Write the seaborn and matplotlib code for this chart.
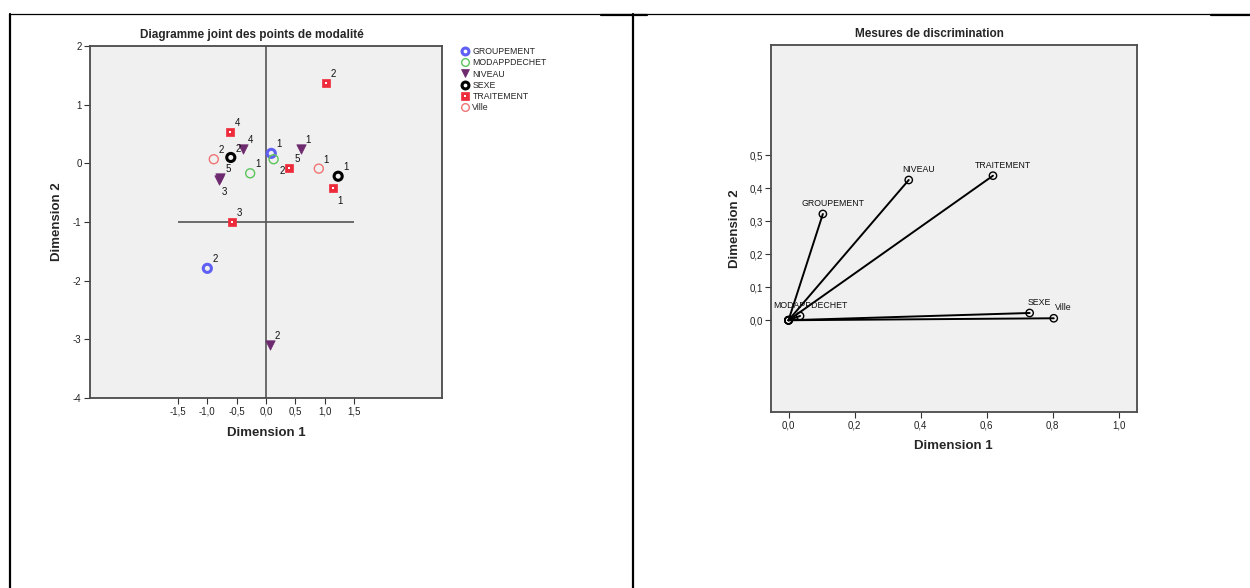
import numpy as np
import pandas as pd
import matplotlib
matplotlib.use('Agg')
import matplotlib.pyplot as plt
import seaborn as sns
from matplotlib.lines import Line2D
from matplotlib.ticker import FuncFormatter

# --- points de modalité (dimension 1, dimension 2) ---
groupement_cat = ['1', '2']
groupement_d1 = [0.09, -1.00]
groupement_d2 = [0.17, -1.79]

modappdechet_cat = ['1', '2']
modappdechet_d1 = [-0.27, 0.13]
modappdechet_d2 = [-0.17, 0.07]

niveau_cat = ['1', '2', '3', '4', '5']
niveau_d1 = [0.59, 0.06, -0.80, -0.39, -0.78]
niveau_d2 = [0.24, -3.09, -0.28, 0.24, -0.25]

sexe_cat = ['1', '2']
sexe_d1 = [1.23, -0.60]
sexe_d2 = [-0.22, 0.10]

traitement_cat = ['1', '2', '3', '4', '5']
traitement_d1 = [1.15, 1.02, -0.58, -0.61, 0.40]
traitement_d2 = [-0.42, 1.37, -1.00, 0.53, -0.08]

ville_cat = ['1', '2']
ville_d1 = [0.90, -0.89]
ville_d2 = [-0.09, 0.07]

# --- mesures de discrimination ---
disc_vars = ['GROUPEMENT', 'MODAPPDECHET', 'NIVEAU', 'SEXE', 'TRAITEMENT', 'Ville']
disc_d1 = [0.104, 0.035, 0.364, 0.730, 0.619, 0.803]
disc_d2 = [0.322, 0.013, 0.425, 0.022, 0.438, 0.006]

left_xticks = [-1.5, -1.0, -0.5, 0.0, 0.5, 1.0, 1.5]
left_yticks = [-4, -3, -2, -1, 0, 1, 2]
right_xticks = [0.0, 0.2, 0.4, 0.6, 0.8, 1.0]
right_yticks = [0.0, 0.1, 0.2, 0.3, 0.4, 0.5]

rows = []
for var, cats, d1, d2 in [('GROUPEMENT', groupement_cat, groupement_d1, groupement_d2),
                          ('MODAPPDECHET', modappdechet_cat, modappdechet_d1, modappdechet_d2),
                          ('NIVEAU', niveau_cat, niveau_d1, niveau_d2),
                          ('SEXE', sexe_cat, sexe_d1, sexe_d2),
                          ('TRAITEMENT', traitement_cat, traitement_d1, traitement_d2),
                          ('Ville', ville_cat, ville_d1, ville_d2)]:
    for c, x, y in zip(cats, d1, d2):
        rows.append({'var': var, 'cat': c, 'd1': x, 'd2': y})
df = pd.DataFrame(rows)

styles = {
    'GROUPEMENT':   dict(marker='o', s=34, fc='none', ec='#5f5ff5', lw=2.2),
    'MODAPPDECHET': dict(marker='o', s=42, fc='none', ec='#5cc45c', lw=1.0),
    'NIVEAU':       dict(marker='v', s=46, fc='#6e2a6e', ec='#6e2a6e', lw=0.5),
    'SEXE':         dict(marker='o', s=34, fc='none', ec='black', lw=2.2),
    'TRAITEMENT':   dict(marker='s', s=40, fc='#ee2b3b', ec='#ee2b3b', lw=0.5),
    'Ville':        dict(marker='o', s=42, fc='none', ec='#f07474', lw=1.0),
}

# décalage des étiquettes (pixels), par défaut en haut à droite
label_offset = {('MODAPPDECHET', '2'): (6, -12), ('TRAITEMENT', '1'): (4, -13),
                ('NIVEAU', '3'): (3, -12), ('SEXE', '2'): (5, 3)}

sns.set_style('white')
plt.rcParams['font.family'] = ['Liberation Sans', 'DejaVu Sans']
plt.rcParams['axes.unicode_minus'] = False

fig = plt.figure(figsize=(12.5, 5.88), dpi=100)
W, H = 1250, 588

def px_axes(l, t, r, b):
    return fig.add_axes([l / W, 1 - b / H, (r - l) / W, (b - t) / H])

def style_axes(ax):
    ax.set_facecolor('#f0f0f0')
    for sp in ax.spines.values():
        sp.set_color('#4a4a4a')
        sp.set_linewidth(1.3)
    ax.tick_params(axis='both', which='major', direction='out', length=4, width=0.8,
                   color='#333333', labelsize=7, labelcolor='#222222', pad=2,
                   bottom=True, left=True)

comma = FuncFormatter(lambda v, p: f'{v:.1f}'.replace('.', ','))

# ---------- graphique de gauche ----------
ax1 = px_axes(90, 46, 442, 398)
style_axes(ax1)
ax1.axvline(0, color='#555555', lw=1.2, zorder=1)
ax1.hlines(-1, -1.5, 1.5, color='#555555', lw=1.2, zorder=1)

handles = []
for var, st in styles.items():
    sub = df[df['var'] == var]
    sns.scatterplot(data=sub, x='d1', y='d2', marker=st['marker'], s=st['s'],
                    facecolor=st['fc'], edgecolor=st['ec'], linewidth=st['lw'],
                    ax=ax1, legend=False, zorder=3)
    h = Line2D([], [], marker=st['marker'], ls='', markersize=np.sqrt(st['s']) * 0.85,
               markerfacecolor=st['fc'], markeredgecolor=st['ec'], markeredgewidth=st['lw'])
    if var == 'TRAITEMENT':
        sns.scatterplot(data=sub, x='d1', y='d2', marker='s', s=3, color='white',
                        linewidth=0, ax=ax1, legend=False, zorder=4)
        dot = Line2D([], [], marker='s', ls='', markersize=1.5, markerfacecolor='white',
                     markeredgewidth=0)
        h = (h, dot)
    handles.append(h)
    for _, r in sub.iterrows():
        dx, dy = label_offset.get((var, r['cat']), (5, 4))
        ax1.annotate(r['cat'], (r['d1'], r['d2']), xytext=(dx, dy), textcoords='offset pixels',
                     fontsize=7, color='#111111', ha='left', va='bottom' if dy > 0 else 'center')

ax1.set_xlim(-3, 3)
ax1.set_ylim(-4, 2)
ax1.set_xticks(left_xticks)
ax1.set_yticks(left_yticks)
ax1.xaxis.set_major_formatter(comma)
ax1.set_xlabel('Dimension 1', fontsize=9.5, fontweight='bold')
ax1.set_ylabel('Dimension 2', fontsize=9.5, fontweight='bold')
ax1.xaxis.set_label_coords(0.5, -0.099)
ax1.yaxis.set_label_coords(-0.094, 0.5)
ax1.xaxis.label.set_va('center')
ax1.yaxis.label.set_va('center')

fig.legend(handles, list(styles.keys()), loc='upper left',
           bbox_to_anchor=(461 / W, 1 - 47 / H), frameon=False, fontsize=6.3,
           borderpad=0, borderaxespad=0, handlelength=1.0, handletextpad=0.3,
           labelspacing=0.26)
fig.text(252 / W, 1 - 35 / H, 'Diagramme joint des points de modalité', ha='center',
         va='center', fontsize=8.5, fontweight='bold')

# ---------- graphique de droite ----------
ax2 = px_axes(771, 45, 1137, 412)
style_axes(ax2)
disc = pd.DataFrame({'var': disc_vars, 'd1': disc_d1, 'd2': disc_d2})
seg = pd.concat([pd.DataFrame({'var': disc['var'], 'x': 0.0, 'y': 0.0, 'k': 0}),
                 pd.DataFrame({'var': disc['var'], 'x': disc['d1'], 'y': disc['d2'], 'k': 1})])
seg = seg.sort_values(['var', 'k'])
sns.lineplot(data=seg, x='x', y='y', units='var', estimator=None, sort=False,
             color='black', lw=1.4, ax=ax2, zorder=2)
sns.scatterplot(data=seg, x='x', y='y', marker='o', s=28, facecolor='none',
                edgecolor='black', linewidth=1.0, ax=ax2, legend=False, zorder=3)
for _, r in disc.iterrows():
    ax2.annotate(r['var'], (r['d1'], r['d2']), xytext=(10, 6), textcoords='offset pixels',
                 fontsize=6.3, ha='center', va='bottom', color='#111111')

ax2.set_xlim(-0.053, 1.055)
ax2.set_ylim(-0.278, 0.834)
ax2.set_xticks(right_xticks)
ax2.set_yticks(right_yticks)
ax2.xaxis.set_major_formatter(comma)
ax2.yaxis.set_major_formatter(comma)
ax2.set_xlabel('Dimension 1', fontsize=9.5, fontweight='bold')
ax2.set_ylabel('Dimension 2', fontsize=9.5, fontweight='bold')
ax2.xaxis.set_label_coords(0.498, -0.093)
ax2.yaxis.set_label_coords(-0.0975, 0.499)
ax2.xaxis.label.set_va('center')
ax2.yaxis.label.set_va('center')
fig.text(929 / W, 1 - 34 / H, 'Mesures de discrimination', ha='center', va='center',
         fontsize=8.5, fontweight='bold')

# ---------- bordures du tableau ----------
fig.add_artist(Line2D([9 / W, 1], [1 - 13.5 / H] * 2, color='black', lw=0.9))
fig.add_artist(Line2D([601 / W, 647 / W], [1 - 14.5 / H] * 2, color='black', lw=1.6))
fig.add_artist(Line2D([1211 / W, 1], [1 - 14.5 / H] * 2, color='black', lw=1.6))
fig.add_artist(Line2D([10 / W, 10 / W], [0, 1 - 13.5 / H], color='black', lw=1.6))
fig.add_artist(Line2D([633 / W, 633 / W], [0, 1 - 13.5 / H], color='black', lw=1.6))

fig.savefig('out.png', dpi=100, facecolor='white')
